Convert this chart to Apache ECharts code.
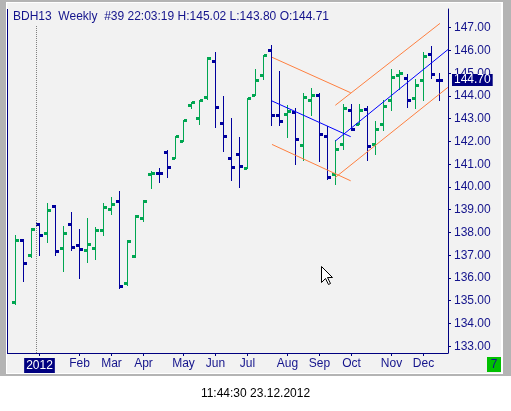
<!DOCTYPE html>
<html>
<head>
<meta charset="utf-8">
<script src="https://cdn.jsdelivr.net/npm/echarts@6/dist/echarts.min.js"></script>
<style>
html,body{margin:0;padding:0;background:#fff;}
#chart{width:511px;height:411px;}
</style>
</head>
<body>
<div id="chart"></div>
<script>
// ---- data (weekly OHLC, week index 0 = mid Dec 2011) ----
const opens  = [134.93,137.66,137.00,138.37,137.97,139.16,137.31,138.37,137.44,137.22,
                137.31,138.11,139.03,139.38,135.77,136.96,138.63,140.58,140.62,141.55,
                141.28,142.03,143.62,143.05,143.97,145.52,142.83,141.28,141.46,140.84,
                144.06,144.90,146.00,143.18,143.22,143.31,141.86,143.84,144.02,142.22,
                140.55,141.90,143.40,142.78,143.44,141.90,142.78,143.80,144.90,144.80,
                143.93,144.68,145.84,144.71];
const highs  = [137.90,137.71,138.19,138.43,139.31,139.22,138.30,138.91,138.16,138.65,
                138.25,139.31,139.58,139.84,137.68,138.78,139.44,140.68,140.85,141.61,
                142.25,142.96,143.75,143.82,145.71,145.93,143.99,143.02,142.18,143.93,
                145.18,145.78,146.24,145.09,143.59,143.49,144.14,144.34,144.14,142.69,
                142.05,143.66,143.63,143.63,143.55,142.88,143.81,145.18,145.13,144.96,
                144.74,145.93,146.19,145.02];
const lows   = [134.87,135.87,136.94,137.02,137.59,137.02,136.31,137.24,136.00,136.72,
                136.84,137.90,138.80,135.58,135.71,136.93,138.52,139.94,140.21,140.43,
                141.28,142.03,143.47,142.77,143.85,142.63,141.58,140.30,139.99,140.84,
                144.06,144.74,142.71,142.71,142.19,141.02,141.19,143.15,141.14,140.34,
                140.13,141.68,142.52,142.78,141.19,141.43,142.49,143.38,144.30,143.52,
                143.49,143.81,144.77,143.80];
const closes = [137.66,136.65,138.15,137.90,138.99,137.18,137.97,137.36,137.27,137.49,
                138.11,139.12,139.25,135.64,137.62,138.72,139.38,140.62,140.60,140.88,
                142.25,142.96,143.75,143.82,145.65,143.53,142.25,140.88,140.93,143.93,
                144.72,145.78,143.18,142.91,143.36,142.12,143.97,144.02,142.34,140.44,
                141.69,143.49,142.56,143.40,141.81,142.56,143.58,144.85,145.03,143.84,
                144.50,145.74,144.96,144.70];

const monthTickIdx = [3, 8, 12, 16, 21, 25, 29, 34, 38, 42, 47, 51];
const monthLabels  = ['2012','Feb','Mar','Apr','May','Jun','Jul','Aug','Sep','Oct','Nov','Dec'];
const yTicks = [133,134,135,136,137,138,139,140,141,142,143,144,145,146,147];
const yearSeparatorIdx = 2.625;

// drawn trend lines: [weekIndex, price]
const fallUpper   = [[32.06,145.70],[41.90,144.14]];
const fallLower   = [[32.06,141.87],[41.90,140.27]];
const fallMid     = [[32.06,143.78],[41.90,142.21]];
const riseUpper   = [[39.98,143.59],[53.06,147.19]];
const riseLower   = [[39.98,140.42],[54.06,144.38]];
const riseMid     = [[39.98,142.02],[54.06,146.04]];

const titleText = 'BDH13  Weekly  #39 22:03:19 H:145.02 L:143.80 O:144.71';
const stampText = '11:44:30 23.12.2012';
const badgeText = '7';

// ---- styles ----
const GREEN = '#00a651', BLUE = '#00009c', NAVY = '#000080', TXT = '#14148c';
const ORANGE = '#ff8040', TLBLUE = '#0000ff', BG = '#f2f2f2';
const FONT = '"Liberation Sans", Arial, sans-serif';

const ohlc = opens.map((o, i) => [i, o, highs[i], lows[i], closes[i]]);
const lastClose = closes[closes.length - 1];

function renderItem(params, api) {
  const i = api.value(0);
  const o = api.value(1), h = api.value(2), l = api.value(3), c = api.value(4);
  const pH = api.coord([i, h]), pL = api.coord([i, l]);
  const pO = api.coord([i, o]), pC = api.coord([i, c]);
  const color = c >= o ? GREEN : BLUE;
  const cx = Math.round(pH[0] - 0.5);
  const yo = Math.round(pO[1]), yc = Math.round(pC[1]);
  const yh = Math.round(pH[1]), yl = Math.round(pL[1]);
  return {
    type: 'group',
    children: [
      {type: 'rect', shape: {x: cx, y: yh, width: 1, height: Math.max(1, yl - yh + 1)}, style: {fill: color}},
      {type: 'rect', shape: {x: cx - 3, y: yo - 1, width: 3, height: 3}, style: {fill: color}},
      {type: 'rect', shape: {x: cx + 1, y: yc - 1, width: 3, height: 3}, style: {fill: color}}
    ]
  };
}

function trend(data, color) {
  return {
    type: 'line', data: data, symbol: 'none', silent: true, z: 5,
    lineStyle: {color: color, width: 1}, animation: false
  };
}

const yMin = 132.701, yMax = 147.822;
const labelMap = {};
monthTickIdx.forEach((v, k) => { labelMap[v] = monthLabels[k]; });

const chart = echarts.init(document.getElementById('chart'), null, {renderer: 'canvas'});
chart.setOption({
  backgroundColor: '#ffffff',
  animation: false,
  grid: {left: 8, right: 63, top: 9, bottom: 58, show: true, backgroundColor: BG, borderWidth: 0},
  xAxis: {
    type: 'value', min: -0.9375, max: 54.0625,
    axisLine: {show: true, onZero: false, lineStyle: {color: NAVY, width: 1}},
    axisTick: {show: true, customValues: monthTickIdx, length: 3, inside: false, lineStyle: {color: NAVY}},
    axisLabel: {
      customValues: monthTickIdx, margin: 5, color: TXT, fontSize: 12, fontFamily: FONT,
      formatter: v => {
        const s = labelMap[Math.round(v)] || '';
        return s === '2012' ? '{yr|' + s + '}' : s;
      },
      rich: {yr: {backgroundColor: NAVY, color: '#ffffff', padding: [2, 2, 1, 2], fontSize: 12, fontFamily: FONT}}
    },
    splitLine: {show: false}
  },
  yAxis: {
    type: 'value', position: 'right', min: yMin, max: yMax,
    axisLine: {show: true, onZero: false, lineStyle: {color: NAVY, width: 1}},
    axisTick: {show: true, customValues: yTicks, length: 3, inside: false, lineStyle: {color: NAVY}},
    axisLabel: {customValues: yTicks, margin: 6, color: TXT, fontSize: 12, fontFamily: FONT,
      formatter: v => v.toFixed(2)},
    splitLine: {show: false}
  },
  series: [
    {
      type: 'custom', renderItem: renderItem, data: ohlc, z: 4,
      encode: {x: 0, y: [1, 2, 3, 4]},
      markLine: {
        symbol: 'none', silent: true, animation: false,
        data: [
          {xAxis: yearSeparatorIdx, lineStyle: {type: 'dotted', color: '#808080', width: 1}, label: {show: false}},
          {yAxis: lastClose, lineStyle: {width: 0, color: 'rgba(0,0,0,0)'},
           label: {show: true, position: 'end', distance: 4, formatter: lastClose.toFixed(2),
             backgroundColor: NAVY, color: '#ffffff', padding: [0, 2, 0, 2], lineHeight: 12,
             fontSize: 12, fontFamily: FONT}}
        ]
      }
    },
    trend(fallUpper, ORANGE),
    trend(fallLower, ORANGE),
    trend(riseUpper, ORANGE),
    trend(riseLower, ORANGE),
    trend(fallMid, TLBLUE),
    trend(riseMid, TLBLUE)
  ],
  graphic: [
    {type: 'rect', z: -30, silent: true, shape: {x: 0, y: 0, width: 511, height: 376}, style: {fill: '#b4b4b4'}},
    {type: 'rect', z: -29, silent: true, shape: {x: 6, y: 2, width: 497, height: 372}, style: {fill: '#ffffff'}},
    {type: 'rect', z: -28, silent: true, shape: {x: 7, y: 3, width: 494, height: 370}, style: {fill: BG}},
    {type: 'rect', z: 50, silent: true, shape: {x: 7, y: 9, width: 1, height: 345}, style: {fill: NAVY}},
    {type: 'text', z: 100, silent: true, x: 13, y: 10,
     style: {text: titleText, fill: TXT, font: '12px ' + FONT, backgroundColor: BG, padding: [1, 0, 3, 0]}},
    {type: 'rect', z: 100, silent: true, shape: {x: 487, y: 357, width: 14, height: 15}, style: {fill: '#00c000'}},
    {type: 'text', z: 101, silent: true, x: 494, y: 365,
     style: {text: badgeText, fill: TXT, font: '12px ' + FONT, align: 'center', verticalAlign: 'middle'}},
    {type: 'text', z: 100, silent: true, x: 255.5, y: 394,
     style: {text: stampText, fill: '#000000', font: '12px ' + FONT, align: 'center', verticalAlign: 'middle'}},
    {type: 'polygon', z: 100, silent: true, x: 321.5, y: 266.5,
     shape: {points: [[0,0],[0,16],[4,12],[7,18],[9,17],[6,11],[11,11]]},
     style: {fill: '#ffffff', stroke: '#000000', lineWidth: 1}}
  ]
});
</script>
</body>
</html>
